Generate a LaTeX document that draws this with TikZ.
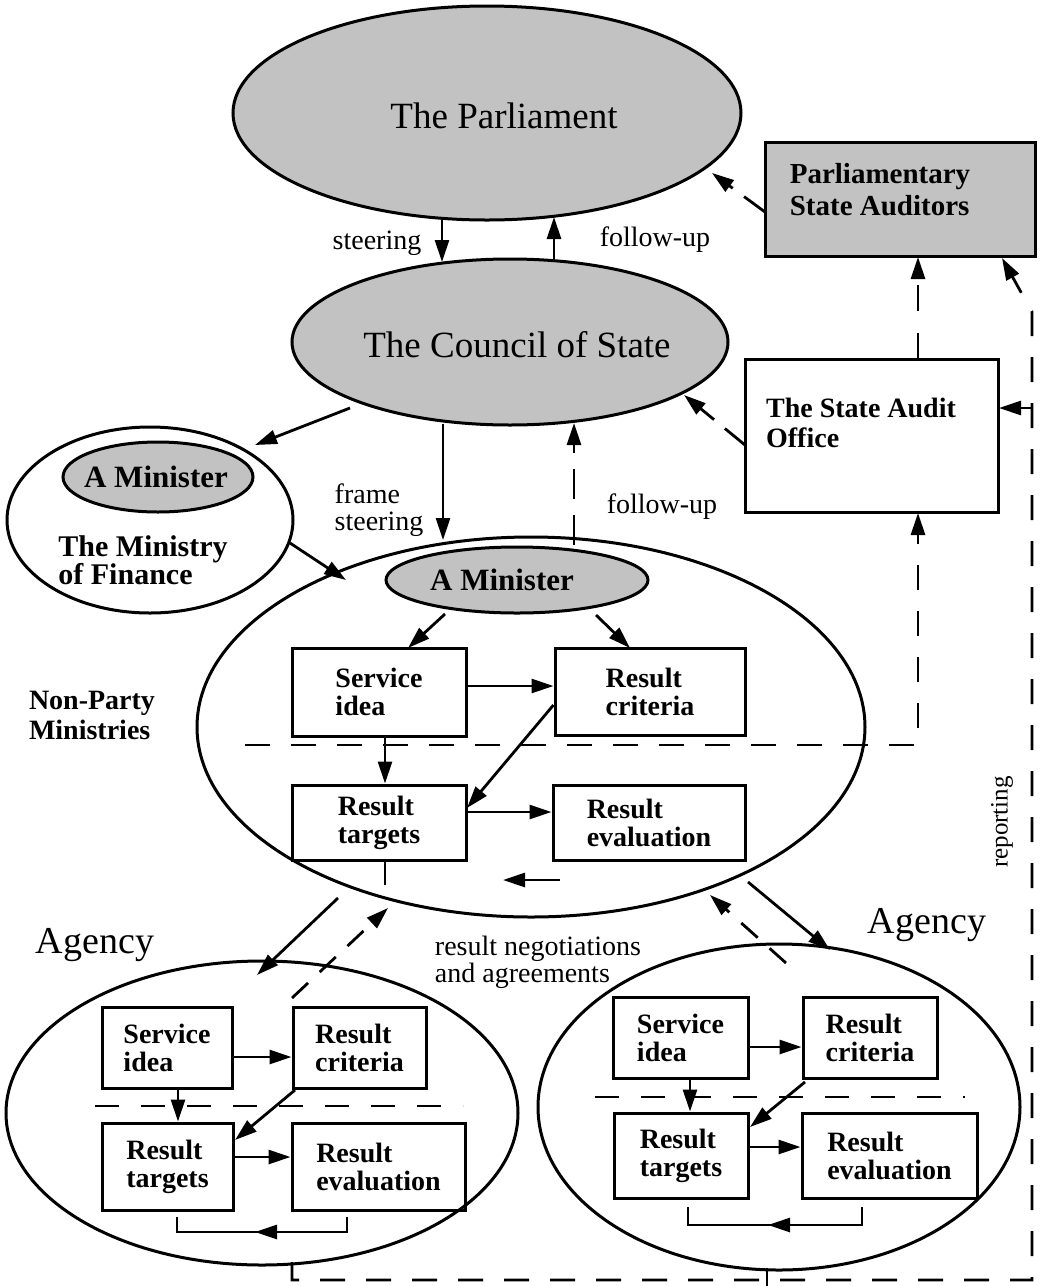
\documentclass[tikz,border=0pt]{standalone}
\usepackage{fontspec}
\setmainfont{Liberation Serif}
\usetikzlibrary{arrows.meta,shapes.geometric}
\begin{document}
\begin{tikzpicture}[x=1pt,y=-1pt,line width=2.8pt,
  >={Triangle[length=22pt,width=14pt]},
  gr/.style={fill=black!24},
  oval/.style={ellipse,draw,line width=3pt,inner sep=0pt},
  box/.style={rectangle,draw,line width=3pt,inner sep=0pt,align=left,font=\fontsize{28}{28}\selectfont\bfseries},
  bt/.style={inner sep=0pt,align=left,font=\fontsize{28}{30}\selectfont\bfseries},
  lbl/.style={inner sep=0pt,align=left,font=\fontsize{28}{27}\selectfont},
  bigt/.style={inner sep=0pt,font=\fontsize{37}{37}\selectfont},
  dsh/.style={dash pattern=on 25pt off 21pt},
]
\useasboundingbox (0,0) rectangle (1042,1286);
\fill[white] (0,0) rectangle (1042,1286);

% ---------- top level ----------
\node[oval,gr,minimum width=508pt,minimum height=214pt] (parl) at (487,113) {};
\node[bigt] (parlT) at (504,116) {The Parliament};
\node[box,gr,minimum width=270pt,minimum height=114pt] (psa) at (900,199) {};
\node[bt,font=\fontsize{29}{32}\selectfont\bfseries] (psaT) at (880,190) {Parliamentary\\State Auditors};
\node[oval,gr,minimum width=436pt,minimum height=166pt] (council) at (510,342) {};
\node[bigt] (councilT) at (517,345) {The Council of State};
\node[box,minimum width=253pt,minimum height=153pt] (sao) at (871.5,435.5) {};
\node[bt] (saoT) at (861,423) {The State Audit\\Office};

\node[lbl] (lsteer) at (377,243) {steering};
\node[lbl] (lfu1) at (655,240) {follow-up};

% ---------- Ministry of Finance ----------
\node[oval,minimum width=286pt,minimum height=186pt] (mof) at (150,520) {};
\node[oval,gr,minimum width=190pt,minimum height=70pt] (fmin) at (158,477) {};
\node[bt,font=\fontsize{31}{31}\selectfont\bfseries] (fminT) at (156,477) {A Minister};
\node[bt,font=\fontsize{30}{28}\selectfont\bfseries] (mofT) at (143,560) {The Ministry\\of Finance};

\node[lbl] (lframe) at (379,510) {frame\\steering};
\node[lbl] (lfu2) at (662,507) {follow-up};
\node[bt] (npm) at (92,715) {Non-Party\\Ministries};

% ---------- Non-party ministry ----------
\node[oval,minimum width=668pt,minimum height=380pt] (mini) at (531,727) {};
\node[oval,gr,minimum width=262pt,minimum height=66pt] (mmin) at (517,580) {};
\node[bt,font=\fontsize{31}{31}\selectfont\bfseries] (mminT) at (502,580) {A Minister};
\node[box,minimum width=174pt,minimum height=88pt] (si) at (379,692) {Service\\idea};
\node[box,minimum width=190pt,minimum height=87pt] (rc) at (650,691.5) {Result\\criteria};
\node[box,minimum width=174pt,minimum height=75pt] (rt) at (379,822.5) {Result\\targets};
\node[box,minimum width=192pt,minimum height=75pt] (re) at (649,822.5) {Result\\evaluation};

% ---------- Agencies ----------
\node[oval,minimum width=512pt,minimum height=304pt] (lag) at (262,1113) {};
\node[oval,minimum width=482pt,minimum height=326pt] (rag) at (779,1107) {};
\node[lbl,font=\fontsize{38}{38}\selectfont] (lagT) at (95,945) {Agency};
\node[lbl,font=\fontsize{38}{38}\selectfont] (ragT) at (927,925) {Agency};
\node[lbl] (neg) at (538,962) {result negotiations\\and agreements};
\node[lbl,font=\fontsize{25}{25}\selectfont,rotate=90] (rep) at (1002,822) {reporting};

\node[box,minimum width=130pt,minimum height=81pt] (lsi) at (167,1047.5) {Service\\idea};
\node[box,minimum width=133pt,minimum height=81pt] (lrc) at (359.5,1047.5) {Result\\criteria};
\node[box,minimum width=131pt,minimum height=87pt] (lrt) at (167.5,1166.5) {Result\\targets};
\node[box,minimum width=173pt,minimum height=87pt] (lre) at (378.5,1166.5) {Result\\evaluation};

\node[box,minimum width=135pt,minimum height=81pt] (rsi) at (680.5,1037.5) {Service\\idea};
\node[box,minimum width=134pt,minimum height=81pt] (rrc) at (870,1037.5) {Result\\criteria};
\node[box,minimum width=134pt,minimum height=85pt] (rrt) at (681,1155.5) {Result\\targets};
\node[box,minimum width=175pt,minimum height=85pt] (rre) at (889.5,1155.5) {Result\\evaluation};

% ---------- coordinates for connector ends ----------
\coordinate (a1) at (442,218);   \coordinate (a2) at (442,262);
\coordinate (b1) at (554,260);   \coordinate (b2) at (554,217);
\coordinate (c1) at (765,212);   \coordinate (c2) at (712,173);
\coordinate (d1) at (918,359);   \coordinate (d2) at (918,257);
\coordinate (e1) at (745,445);   \coordinate (e2) at (684,395);
\coordinate (f1) at (350,408);   \coordinate (f2) at (255,445);
\coordinate (g1) at (443,424);   \coordinate (g2) at (443,540);
\coordinate (h1) at (574,545);   \coordinate (h2) at (574,423);
\coordinate (i1) at (290,543);   \coordinate (i2) at (346,580);
\coordinate (sep1) at (245,745); \coordinate (sep2) at (918,745); \coordinate (sep3) at (918,513);
\coordinate (m1) at (338,898);   \coordinate (m2) at (257,975);
\coordinate (n1) at (292,998);   \coordinate (n2) at (388,908);
\coordinate (o1) at (786,963);   \coordinate (o2) at (710,895);
\coordinate (p1) at (748,882);   \coordinate (p2) at (830,950);
\coordinate (r0) at (292,1262);  \coordinate (r1) at (292,1280);
\coordinate (r2) at (1032,1280); \coordinate (r3) at (1032,312); \coordinate (r4) at (1002,258);
\coordinate (q1) at (1032,408);  \coordinate (q2) at (999,408);

% ---------- connectors, top ----------
\draw[->] (a1) -- (a2);
\draw[->] (b1) -- (b2);
\draw[->,dash pattern=on 26pt off 14pt] (c1) -- (c2);
\draw[->,dash pattern=on 26pt off 22pt] (d1) -- (d2);
\draw[->,dash pattern=on 26pt off 14pt] (e1) -- (e2);
\draw[->] (f1) -- (f2);
\draw[->] (g1) -- (g2);
\draw[->,dash pattern=on 30pt off 16pt] (h1) -- (h2);
\draw[->] (i1) -- (i2);

% ---------- ministry internals ----------
\draw[->] (445,614) -- (408,648);
\draw[->] (596,615) -- (630,648);
\draw[->] (si.east |- 0,686) -- (rc.west |- 0,686);
\draw[->] (rc.west |- 0,705) -- (467,808);
\draw[->] (si.south -| 385,0) -- (rt.north -| 385,0);
\draw[->] (rt.east |- 0,812) -- (re.west |- 0,812);
\draw (rt.south -| 385,0) -- (385,885);
\draw[->] (560,880) -- (503,880);
\draw[->,dsh] (sep1) -- (sep2) -- (sep3);

% ---------- ministry <-> agencies ----------
\draw[->] (m1) -- (m2);
\draw[->,dash pattern=on 22pt off 16pt] (n1) -- (n2);
\draw[->,dash pattern=on 22pt off 16pt] (o1) -- (o2);
\draw[->] (p1) -- (p2);

% ---------- reporting ----------
\draw[->,dsh] (r0) -- (r1) -- (r2) -- (r3) -- (r4);
\draw[->] (q1) -- (q2);
\draw (767,1268) -- (767,1286);

% ---------- left agency internals ----------
\draw[dash pattern=on 24pt off 22pt] (95,1106) -- (463,1106);
\draw[->] (lsi.east |- 0,1057) -- (lrc.west |- 0,1057);
\draw[->] (lsi.south -| 178,0) -- (lrt.north -| 178,0);
\draw[->] (295,1090) -- (235,1140);
\draw[->] (lrt.east |- 0,1157) -- (lre.west |- 0,1157);
\draw[->] (347,1217) |- (255,1232);
\draw (262,1232) -| (177,1217);

% ---------- right agency internals ----------
\draw[dash pattern=on 24pt off 22pt] (595,1097) -- (965,1097);
\draw[->] (rsi.east |- 0,1047) -- (rrc.west |- 0,1047);
\draw[->] (rsi.south -| 690,0) -- (rrt.north -| 690,0);
\draw[->] (805,1082) -- (750,1127);
\draw[->] (rrt.east |- 0,1147) -- (rre.west |- 0,1147);
\draw[->] (862,1207) |- (768,1225);
\draw (776,1225) -| (688,1207);
\end{tikzpicture}
\end{document}
